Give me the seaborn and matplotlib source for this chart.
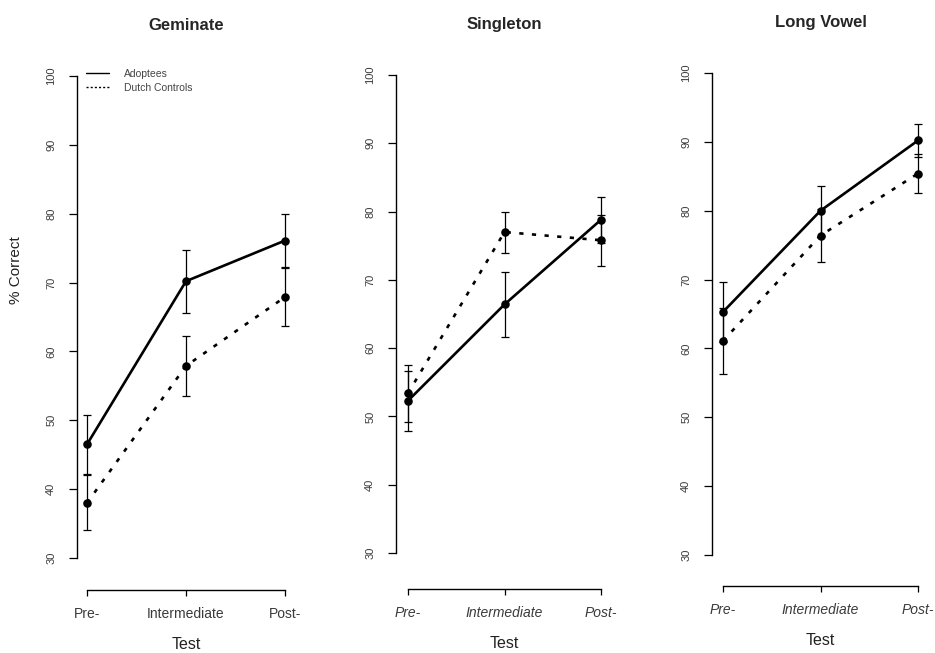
import numpy as np
import pandas as pd
import seaborn as sns
import matplotlib.pyplot as plt
from matplotlib.lines import Line2D

# data
tests = ["Pre-", "Intermediate", "Post-"]
conditions = ["Geminate", "Singleton", "Long Vowel"]
groups = ["Adoptees", "Dutch Controls"]

gem_adopt = [46.5, 70.2, 76.1]
gem_adopt_err = [4.3, 4.6, 3.9]
gem_ctrl = [38.0, 57.9, 67.9]
gem_ctrl_err = [4.0, 4.4, 4.2]

sing_adopt = [52.3, 66.4, 78.8]
sing_adopt_err = [4.4, 4.8, 3.4]
sing_ctrl = [53.4, 77.0, 75.8]
sing_ctrl_err = [4.2, 3.0, 3.7]

long_adopt = [65.3, 80.0, 90.2]
long_adopt_err = [4.3, 3.6, 2.4]
long_ctrl = [61.1, 76.4, 85.4]
long_ctrl_err = [4.8, 3.9, 2.8]

yticks = [30, 40, 50, 60, 70, 80, 90, 100]

means = {
    "Geminate": (gem_adopt, gem_ctrl),
    "Singleton": (sing_adopt, sing_ctrl),
    "Long Vowel": (long_adopt, long_ctrl),
}
errs = {
    "Geminate": (gem_adopt_err, gem_ctrl_err),
    "Singleton": (sing_adopt_err, sing_ctrl_err),
    "Long Vowel": (long_adopt_err, long_ctrl_err),
}

rows = []
for cond in conditions:
    for g, m, e in zip(groups, means[cond], errs[cond]):
        for i, t in enumerate(tests):
            rows.append({"condition": cond, "group": g, "test": t, "x": i,
                         "pct": m[i], "err": e[i]})
df = pd.DataFrame(rows)

sns.set_theme(style="white")
plt.rcParams["font.family"] = ["Liberation Sans", "DejaVu Sans"]

W, H = 935, 653
fig = plt.figure(figsize=(W / 100, H / 100), dpi=100)

# panel layout in pixels: y-axis x, pre x, post x, y(100), y(30), x-axis y
layout = [
    (77, 87, 285, 76, 558, 590),
    (396, 408, 601, 75, 553, 589),
    (712, 723, 918, 73, 555, 586),
]

dot_dash = (1.6, 3.2)
tick_col = "#3a3a3a"

for k, cond in enumerate(conditions):
    lx, px0, px2, py100, py30, pxa = layout[k]
    ux = (px2 - px0) / 2.0
    uy = (py30 - py100) / 70.0
    x_lo = -(px0 - lx) / ux
    x_hi = 2 + (px0 - lx) / ux
    right = px2 + (px0 - lx)
    y_lo = 30 - (pxa - py30) / uy
    y_hi = 102.8
    top = py100 - 2.8 * uy
    ax = fig.add_axes([lx / W, 1 - pxa / H, (right - lx) / W, (pxa - top) / H])

    sub = df[df["condition"] == cond]
    sns.lineplot(data=sub, x="x", y="pct", style="group", style_order=groups,
                 dashes={"Adoptees": "", "Dutch Controls": dot_dash},
                 color="black", linewidth=1.9, errorbar=None, legend=False,
                 ax=ax)
    for line in ax.lines:
        line.set_dash_capstyle("butt")
    sns.scatterplot(data=sub, x="x", y="pct", color="black", s=38,
                    edgecolor="black", linewidth=0, legend=False, ax=ax, zorder=4)
    for g in groups:
        gs = sub[sub["group"] == g]
        ax.errorbar(gs["x"], gs["pct"], yerr=gs["err"], fmt="none",
                    ecolor="black", elinewidth=0.9, capsize=3, capthick=0.9,
                    zorder=3)

    ax.set_xlim(x_lo, x_hi)
    ax.set_ylim(y_lo, y_hi)
    for s in ["top", "right"]:
        ax.spines[s].set_visible(False)
    ax.spines["left"].set_bounds(30, 100)
    ax.spines["bottom"].set_bounds(0, 2)
    for s in ["left", "bottom"]:
        ax.spines[s].set_color("black")
        ax.spines[s].set_linewidth(1.0)

    ax.set_yticks(yticks)
    ax.set_yticklabels([str(v) for v in yticks], rotation=90, va="center",
                       fontsize=8, color=tick_col)
    ax.set_xticks(range(len(tests)))
    ax.set_xticklabels(tests, fontsize=10, color=tick_col,
                       style="normal" if k == 0 else "italic")
    ax.tick_params(axis="y", direction="out", length=6, width=0.9, pad=9,
                   left=True, color="black")
    ax.tick_params(axis="x", direction="out", length=4, width=0.9, pad=8,
                   bottom=True, color="black")
    ax.set_xlabel("Test", fontsize=11.5, color="#222222", labelpad=12)
    ax.set_ylabel("")
    ax.set_title(cond, fontsize=12, fontweight="bold", pad=19)
    ax.grid(False)

    if k == 0:
        ax.set_ylabel("% Correct", fontsize=11, color="#222222")
        ax.yaxis.set_label_coords(-0.25, 0.6)
        handles = [
            Line2D([], [], color="black", lw=1.0),
            Line2D([], [], color="black", lw=1.0, linestyle=(0, (1.5, 1.5))),
        ]
        ax.legend(handles, groups, loc="upper left",
                  bbox_to_anchor=(0.02, 0.985), frameon=False, fontsize=7.5,
                  handlelength=2.3, handletextpad=1.4, labelspacing=0.35,
                  labelcolor="#444444", borderaxespad=0)

fig.savefig("out.png", dpi=100)
